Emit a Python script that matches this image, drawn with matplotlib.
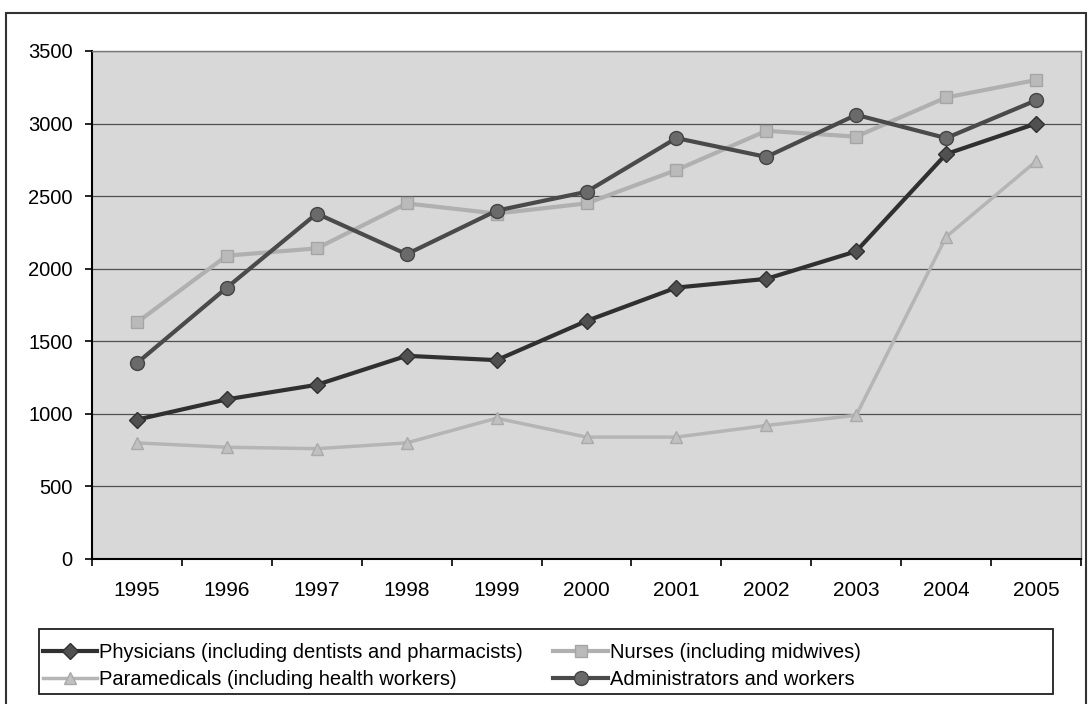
import matplotlib
matplotlib.use("Agg")
import matplotlib.pyplot as plt
from matplotlib.patches import Rectangle

years = ["1995", "1996", "1997", "1998", "1999", "2000", "2001", "2002", "2003", "2004", "2005"]
physicians = [960, 1100, 1200, 1400, 1370, 1640, 1870, 1930, 2120, 2790, 3000]
nurses = [1630, 2090, 2140, 2450, 2380, 2450, 2680, 2950, 2910, 3180, 3300]
paramedicals = [800, 770, 760, 800, 970, 840, 840, 920, 990, 2220, 2740]
administrators = [1350, 1870, 2380, 2100, 2400, 2530, 2900, 2770, 3060, 2900, 3160]
y_ticks = [0, 500, 1000, 1500, 2000, 2500, 3000, 3500]

labels = ["Physicians (including dentists and pharmacists)",
          "Nurses (including midwives)",
          "Paramedicals (including health workers)",
          "Administrators and workers"]

plt.rcParams['font.family'] = ['Liberation Sans', 'DejaVu Sans']

W, H = 1092, 704
fig = plt.figure(figsize=(W / 100, H / 100), dpi=100)
ax = fig.add_axes([92 / W, 1 - 559 / H, (1081 - 92) / W, (559 - 51) / H])
ax.set_facecolor('#d8d8d8')

x = list(range(len(years)))
l_phys, = ax.plot(x, physicians, color='#303030', lw=3, marker='D', ms=8,
                  mfc='#505050', mec='#303030', label=labels[0], zorder=5)
l_nurse, = ax.plot(x, nurses, color='#b0b0b0', lw=3, marker='s', ms=8,
                   mfc='#bababa', mec='#a5a5a5', label=labels[1], zorder=3)
l_para, = ax.plot(x, paramedicals, color='#b5b5b5', lw=2.5, marker='^', ms=8,
                  mfc='#c0c0c0', mec='#aaaaaa', label=labels[2], zorder=3)
l_admin, = ax.plot(x, administrators, color='#4a4a4a', lw=3, marker='o', ms=10,
                   mfc='#6a6a6a', mec='#444444', label=labels[3], zorder=4)

ax.set_ylim(0, 3500)
ax.set_yticks(y_ticks)
ax.set_yticklabels([str(v) for v in y_ticks], fontsize=14.5)
ax.yaxis.grid(True, color='#505050', lw=0.9)
ax.set_axisbelow(True)

ax.set_xlim(-0.5, len(years) - 0.5)
ax.set_xticks(x)
ax.set_xticklabels(years, fontsize=15)
ax.set_xticks([i - 0.5 for i in range(len(years) + 1)], minor=True)
ax.tick_params(axis='x', which='major', length=0, pad=16)
ax.tick_params(axis='x', which='minor', length=5, width=1.2, direction='out')
ax.tick_params(axis='y', length=5, width=1.2, pad=9)

for s in ['left', 'bottom']:
    ax.spines[s].set_color('black')
    ax.spines[s].set_linewidth(1.5)
for s in ['top', 'right']:
    ax.spines[s].set_color('#777777')
    ax.spines[s].set_linewidth(1.0)

# legend box
fig.patches.append(Rectangle((39 / W, 1 - 694 / H), (1053 - 39) / W, (694 - 629) / H,
                             transform=fig.transFigure, fill=False,
                             edgecolor='#202020', lw=1.3))
handles = [l_phys, l_para, l_nurse, l_admin]
leg = fig.legend(handles=handles, labels=[h.get_label() for h in handles],
                 ncol=2, loc='upper left',
                 bbox_to_anchor=(43 / W, 1 - 643 / H),
                 fontsize=14.5, frameon=False,
                 handlelength=2.7, handletextpad=0.1,
                 columnspacing=1.5, borderpad=0.0, labelspacing=0.42,
                 borderaxespad=0)

# outer figure frame
fig.patches.append(Rectangle((6 / W, -0.01), (1086 - 6) / W, 1 - 13 / H + 0.01,
                             transform=fig.transFigure, fill=False,
                             edgecolor='#333333', lw=1.5))

fig.savefig('out.png', dpi=100)
